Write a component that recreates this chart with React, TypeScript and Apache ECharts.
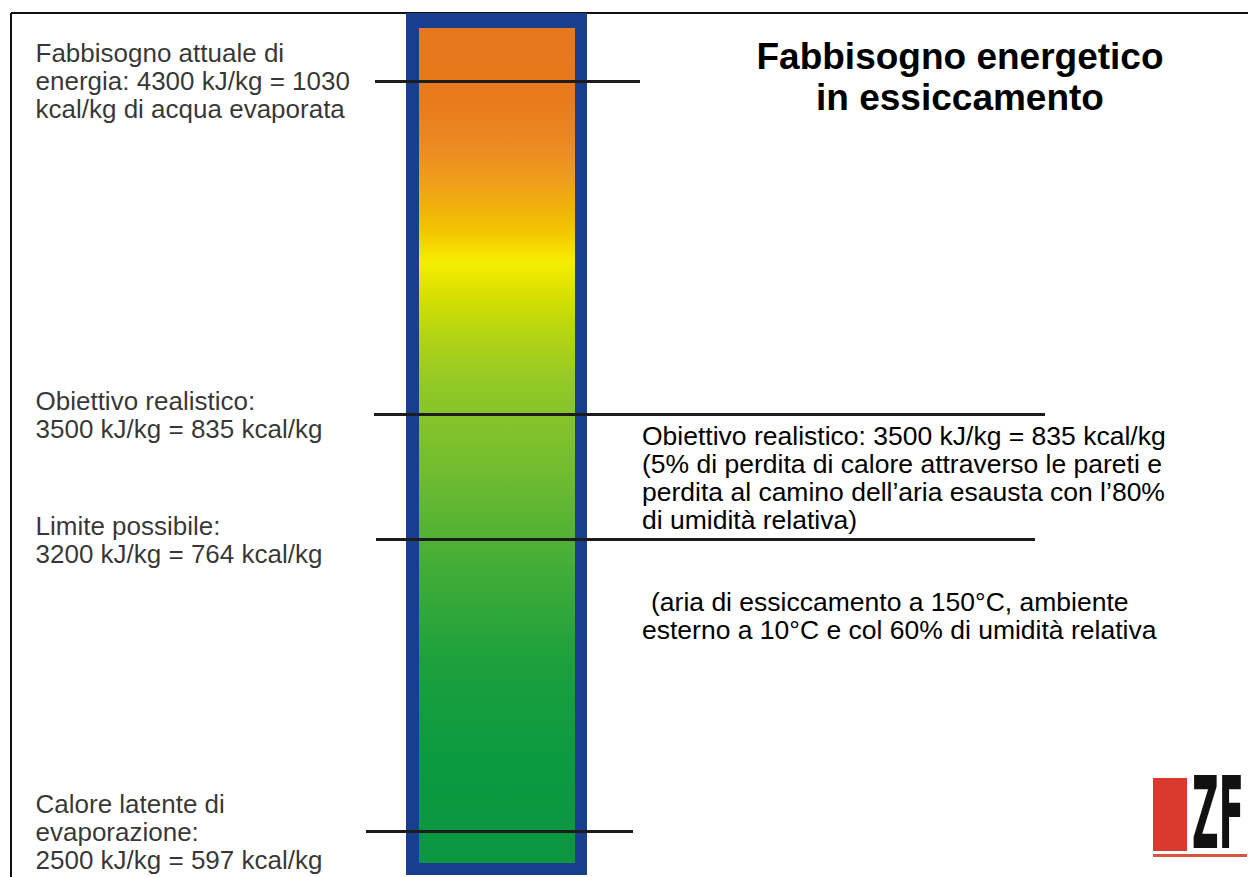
import React, { useEffect, useRef } from "react";
import * as echarts from "echarts";

// ---- data ----
const levelKJ = [4300, 3500, 3200, 2500];
const levelKcal = [1030, 835, 764, 597];
const levelLabels = [
  "Fabbisogno attuale di\nenergia: 4300 kJ/kg = 1030\nkcal/kg di acqua evaporata",
  "Obiettivo realistico:\n3500 kJ/kg = 835 kcal/kg",
  "Limite possibile:\n3200 kJ/kg = 764 kcal/kg",
  "Calore latente di\nevaporazione:\n2500 kJ/kg = 597 kcal/kg",
];
const titleLines = ["Fabbisogno energetico", "in essiccamento"];
const noteRealistic = [
  "Obiettivo realistico: 3500 kJ/kg = 835 kcal/kg",
  "(5% di perdita di calore attraverso le pareti e",
  "perdita al camino dell\u2019aria esausta con l\u201980%",
  "di umidit\u00e0 relativa)",
];
const noteConditions = [
  "(aria di essiccamento a 150\u00b0C, ambiente",
  "esterno a 10\u00b0C e col 60% di umidit\u00e0 relativa",
];
const logoText = "ZF";

// ---- layout ----
const W = 1248;
const H = 877;
const Y_MIN = 2391;
const Y_MAX = 4494;
const LABEL_X = 35;
const lineSpans = [
  [375, 640],
  [374, 1045],
  [376, 1035],
  [366, 633],
];
const FONT = '"Liberation Sans", Arial, Helvetica, sans-serif';

export default function App() {
  const ref = useRef<HTMLDivElement>(null);
  useEffect(() => {
    document.body.style.margin = "0";
    const chart = echarts.init(ref.current!, undefined, { renderer: "svg" });
    const gradient = {
      type: "linear",
      x: 0,
      y: 0,
      x2: 0,
      y2: 1,
      colorStops: [
        { offset: 0, color: "#E7771C" },
        { offset: 0.09, color: "#E97B1B" },
        { offset: 0.15, color: "#EC8D22" },
        { offset: 0.2, color: "#F0A814" },
        { offset: 0.24, color: "#F3C200" },
        { offset: 0.28, color: "#F6EE00" },
        { offset: 0.32, color: "#D8E000" },
        { offset: 0.37, color: "#B2D414" },
        { offset: 0.43, color: "#90C826" },
        { offset: 0.53, color: "#72BC2E" },
        { offset: 0.64, color: "#44AE36" },
        { offset: 0.76, color: "#1CA03C" },
        { offset: 0.88, color: "#0A9A40" },
        { offset: 1, color: "#0B9640" },
      ],
    };
    const txt = (text: string, x: number, y: number, size: number, extra: any = {}) => ({
      type: "text",
      x,
      y,
      style: {
        text,
        fontSize: size,
        fontFamily: FONT,
        fill: "#000",
        align: "left",
        verticalAlign: "middle",
        ...extra,
      },
    });
    const graphics: any[] = [
      { type: "line", shape: { x1: 11, y1: 13, x2: W, y2: 13 }, style: { stroke: "#111", lineWidth: 2 } },
      { type: "line", shape: { x1: 11, y1: 13, x2: 11, y2: H }, style: { stroke: "#111", lineWidth: 2 } },
      { type: "rect", shape: { x: 406, y: 13, width: 181, height: 862 }, style: { fill: "#173F8E" } },
      { type: "rect", shape: { x: 419, y: 28, width: 156, height: 835 }, style: { fill: gradient } },
      txt(titleLines[0], 960, 56, 37, { fontWeight: "bold", align: "center" }),
      txt(titleLines[1], 960, 97, 37, { fontWeight: "bold", align: "center" }),
    ];
    noteRealistic.forEach((t, i) => graphics.push(txt(t, 642, 436 + i * 28, 26.5)));
    graphics.push(txt(noteConditions[0], 651, 602, 26.5));
    graphics.push(txt(noteConditions[1], 642, 630, 26.5));
    graphics.push(
      { type: "rect", shape: { x: 1153, y: 778, width: 34, height: 73 }, style: { fill: "#DA3A2E" } },
      { type: "rect", shape: { x: 1153, y: 854, width: 94, height: 3 }, style: { fill: "#D9553F" } },
      {
        type: "text",
        x: 1192,
        y: 814,
        scaleX: 0.89,
        scaleY: 2.15,
        style: {
          text: logoText,
          fontSize: 46,
          lineHeight: 46,
          fontWeight: "bold",
          fontFamily: '"DejaVu Sans Condensed", "DejaVu Sans", sans-serif',
          fill: "#111",
          align: "left",
          verticalAlign: "middle",
        },
      }
    );
    chart.setOption({
      animation: false,
      backgroundColor: "#fff",
      grid: { left: 0, right: 0, top: 0, bottom: 0 },
      xAxis: { type: "value", min: 0, max: W, show: false },
      yAxis: { type: "value", min: Y_MIN, max: Y_MAX, show: false },
      graphic: graphics,
      series: [
        {
          type: "scatter",
          silent: true,
          symbolSize: 1,
          itemStyle: { color: "rgba(0,0,0,0)" },
          data: levelKJ.map((v, i) => ({ value: [LABEL_X, v], kcal: levelKcal[i] })),
          label: {
            show: true,
            position: "right",
            distance: 0,
            formatter: (p: any) => levelLabels[p.dataIndex],
            fontSize: 26,
            lineHeight: 28,
            fontFamily: FONT,
            color: "#000",
            align: "left",
            verticalAlign: "middle",
          },
          markLine: {
            silent: true,
            symbol: "none",
            label: { show: false },
            lineStyle: { color: "#1c1c1c", width: 3, type: "solid" },
            data: levelKJ.map((v, i) => [
              { coord: [lineSpans[i][0], v] },
              { coord: [lineSpans[i][1], v] },
            ]),
          },
        },
      ],
    });
    return () => chart.dispose();
  }, []);
  return <div ref={ref} style={{ width: W, height: H }} />;
}
